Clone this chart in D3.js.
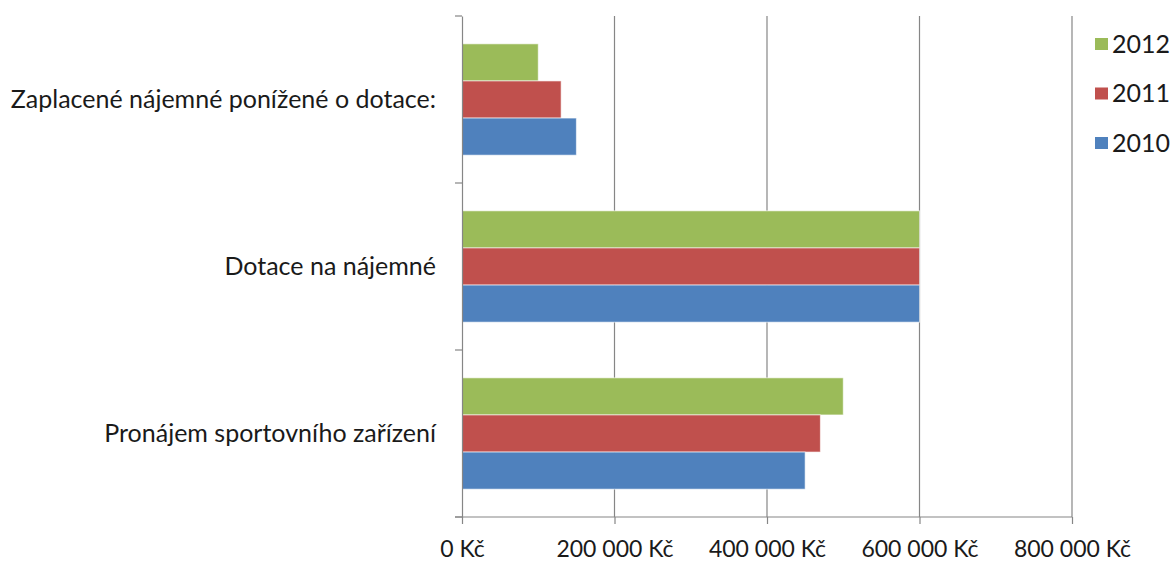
<!DOCTYPE html>
<html>
<head>
<meta charset="utf-8">
<script src="https://cdn.jsdelivr.net/npm/d3@7"></script>
<style>
  body { margin: 0; background: #fff; }
  text { font-family: Lato, "Open Sans", sans-serif; fill: #1a1a1a; }
</style>
</head>
<body>
<div id="chart"></div>
<script>
// categories top -> bottom
var categories = ["Zaplacené nájemné ponížené o dotace:", "Dotace na nájemné", "Pronájem sportovního zařízení"];
var years = ["2012", "2011", "2010"];
var values2012 = [100000, 600000, 500000];
var values2011 = [130000, 600000, 470000];
var values2010 = [150000, 600000, 450000];
var xTicks = [0, 200000, 400000, 600000, 800000];
var colors = ["#9bbb59", "#c0504d", "#4f81bd"];

var seriesValues = [values2012, values2011, values2010];

var W = 1173, H = 563;
var margin = { top: 16, right: 101, bottom: 46, left: 462 },
    width = W - margin.left - margin.right,
    height = H - margin.top - margin.bottom;

var svg = d3.select("#chart").append("svg")
    .attr("width", W)
    .attr("height", H);

var g = svg.append("g")
    .attr("transform", "translate(" + margin.left + "," + margin.top + ")");

var x = d3.scaleLinear().domain([0, 800000]).range([0, width]);
var y = d3.scaleBand().domain(categories).range([0, height]).padding(0);
var ySub = d3.scaleBand().domain(years).range([0, y.bandwidth()]).paddingInner(0).paddingOuter(0.75);

var fmt = function (d) {
    return d3.format(",")(d).replace(/,/g, " ") + " Kč";
};

// gridlines
g.selectAll("line.grid")
    .data(xTicks.slice(1))
    .enter().append("line")
    .attr("class", "grid")
    .attr("x1", function (d) { return x(d); })
    .attr("x2", function (d) { return x(d); })
    .attr("y1", 0)
    .attr("y2", height)
    .attr("stroke", "#868686")
    .attr("stroke-width", 1.2);

// bars
var rows = [];
categories.forEach(function (c, i) {
    years.forEach(function (yr, j) {
        rows.push({ cat: c, year: yr, value: seriesValues[j][i], color: colors[j] });
    });
});

g.selectAll("rect.bar")
    .data(rows)
    .enter().append("rect")
    .attr("class", "bar")
    .attr("x", x(0))
    .attr("y", function (d) { return y(d.cat) + ySub(d.year); })
    .attr("width", function (d) { return x(d.value) - x(0); })
    .attr("height", ySub.bandwidth())
    .attr("fill", function (d) { return d.color; })
    .attr("stroke", "rgba(255,255,255,0.6)")
    .attr("stroke-width", 1);

// x axis
var xAxis = g.append("g")
    .attr("transform", "translate(0," + height + ")")
    .call(d3.axisBottom(x).tickValues(xTicks).tickFormat(fmt).tickSizeInner(7).tickSizeOuter(0).tickPadding(17));
xAxis.select(".domain").remove();
xAxis.append("line")
    .attr("x1", -7).attr("x2", width)
    .attr("stroke", "#868686").attr("stroke-width", 1.2);
xAxis.selectAll(".tick line").attr("stroke", "#868686").attr("stroke-width", 1.2);
xAxis.selectAll(".tick text")
    .style("font-size", "23px")
    .style("font-family", "Lato, sans-serif")
    .attr("fill", "#1a1a1a");

// y axis
var yAxis = g.append("g")
    .call(d3.axisLeft(y).tickSize(0).tickPadding(26));
yAxis.select(".domain").attr("stroke", "#868686").attr("stroke-width", 1.2);
yAxis.selectAll(".tick text")
    .style("font-size", "25px")
    .style("font-family", "Lato, sans-serif")
    .attr("fill", "#1a1a1a");

// y category boundary ticks
var bounds = categories.map(function (c) { return y(c); }).concat([height]);
g.selectAll("line.ytick")
    .data(bounds)
    .enter().append("line")
    .attr("class", "ytick")
    .attr("x1", -7).attr("x2", 0)
    .attr("y1", function (d) { return d; })
    .attr("y2", function (d) { return d; })
    .attr("stroke", "#868686")
    .attr("stroke-width", 1.2);

// legend
var legendY = [44, 93.5, 143];
var legend = svg.append("g").attr("transform", "translate(1095,0)");
var li = legend.selectAll("g")
    .data(years)
    .enter().append("g")
    .attr("transform", function (d, i) { return "translate(0," + legendY[i] + ")"; });
li.append("rect")
    .attr("x", 0).attr("y", -6)
    .attr("width", 13).attr("height", 12)
    .attr("fill", function (d, i) { return colors[i]; });
li.append("text")
    .attr("x", 17)
    .attr("dy", "0.35em")
    .style("font-size", "25px")
    .text(function (d) { return d; });
</script>
</body>
</html>
